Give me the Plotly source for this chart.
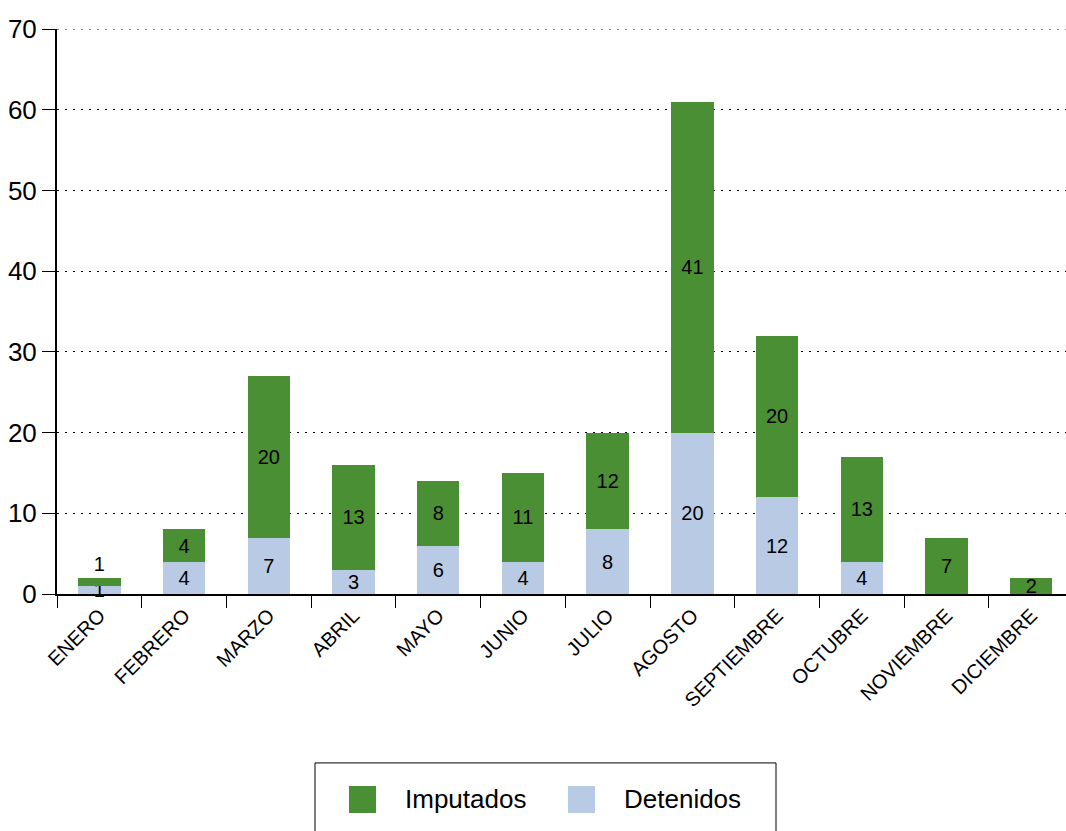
import plotly.graph_objects as go

meses = ["ENERO", "FEBRERO", "MARZO", "ABRIL", "MAYO", "JUNIO", "JULIO",
         "AGOSTO", "SEPTIEMBRE", "OCTUBRE", "NOVIEMBRE", "DICIEMBRE"]
detenidos = [1, 4, 7, 3, 6, 4, 8, 20, 12, 4, 0, 0]
imputados = [1, 4, 20, 13, 8, 11, 12, 41, 20, 13, 7, 2]

verde = "#4a8f34"
azul = "#b9cae4"
fuente = "Liberation Sans, Arial, sans-serif"
txt = dict(color="black", size=20, family=fuente)
punteado = "2px,6px"

fig = go.Figure()

# Detenidos (base of the stack)
fig.add_trace(go.Bar(
    x=meses, y=detenidos, name="Detenidos",
    marker=dict(color=azul, line=dict(width=0)),
    text=[str(v) if v else "" for v in detenidos],
    textposition="inside", insidetextanchor="middle", constraintext="none",
    textangle=0, textfont=txt,
    cliponaxis=False, width=0.5, showlegend=False,
))

# Imputados (on top); the tiny first bar gets its label outside
fig.add_trace(go.Bar(
    x=meses, y=imputados, name="Imputados",
    marker=dict(color=verde, line=dict(width=0)),
    text=[str(v) for v in imputados],
    textposition=["outside"] + ["inside"] * (len(meses) - 1),
    insidetextanchor="middle", constraintext="none",
    textangle=0, textfont=txt, outsidetextfont=txt,
    cliponaxis=False, width=0.5, showlegend=False,
))

# top gridline at 70 (plotly skips the grid line on the range edge)
fig.add_shape(type="line", xref="paper", yref="y", x0=0, x1=1, y0=70, y1=70,
              line=dict(color="black", width=1, dash=punteado), layer="below")

# boxed legend under the chart, drawn by hand to get the big swatches
fig.add_shape(type="rect", xref="paper", yref="paper",
              x0=0.2557, x1=0.7126, y0=-0.299, y1=-0.46,
              line=dict(color="black", width=1), fillcolor="white")
for tr, x0 in [(fig.data[1], 0.2894), (fig.data[0], 0.5064)]:
    fig.add_shape(type="rect", xref="paper", yref="paper",
                  x0=x0, x1=x0 + 0.0268, y0=-0.3398, y1=-0.3876,
                  line=dict(width=0), fillcolor=tr.marker.color)
    fig.add_annotation(x=x0 + 0.0535, y=-0.3637, xref="paper", yref="paper",
                       text=tr.name, showarrow=False, xanchor="left",
                       yanchor="middle", font=dict(size=26, family=fuente))

fig.update_layout(
    barmode="stack",
    width=1066, height=831,
    margin=dict(l=57, r=0, t=29, b=237),
    plot_bgcolor="white", paper_bgcolor="white",
    font=dict(family=fuente, color="black"),
    showlegend=False,
)

fig.update_yaxes(
    range=[0, 70], dtick=10,
    showgrid=True, gridcolor="black", griddash=punteado, gridwidth=1,
    showline=True, linecolor="black", linewidth=2,
    ticks="outside", ticklen=13, tickcolor="black",
    tickfont=dict(size=26, family=fuente),
    zeroline=False, automargin=False,
)
# the last category runs a little past the right edge, as in the original
fig.update_xaxes(
    showline=True, linecolor="black", linewidth=2,
    ticks="outside", tickson="boundaries", ticklen=12, tickcolor="black",
    tickangle=-45, tickfont=dict(size=20, family=fuente),
    range=[-0.5, 11.41], automargin=False,
)

# drop the default page margin so the figure sits at the window corner
fig.write_html("out.html", config={"displayModeBar": False},
               post_script="document.body.style.margin='0';")
